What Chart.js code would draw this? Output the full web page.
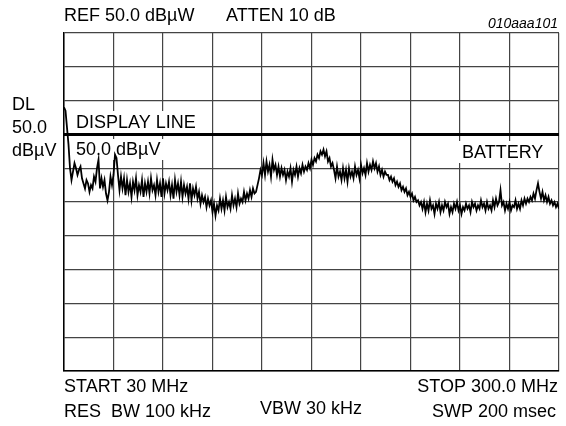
<!DOCTYPE html>
<html>
<head>
<meta charset="utf-8">
<script src="https://cdn.jsdelivr.net/npm/chart.js@4/dist/chart.umd.min.js"></script>
<style>
  html, body { margin: 0; padding: 0; background: #fff; }
  #wrap { width: 566px; height: 426px; }
</style>
</head>
<body>
<div id="wrap"><canvas id="spec" width="566" height="426"></canvas></div>
<script>
// Sweep settings (MHz) and screen scale (dB)
const START_MHZ = 30;
const STOP_MHZ = 300;
const Y_MIN = -20;
const Y_MAX = 80;
const DISPLAY_LINE = 50;

// Trace levels (dBuV), evenly spaced across the sweep
const traceLevels = [
  58, 57, 52, 47, 40, 36.5,
  39, 41.5, 40, 38, 39.5, 40.5, 37, 35.5, 34, 36.5, 35.5, 33, 35, 34, 37.5, 36, 40, 42.5, 34, 37,
  34.5, 36.5, 32.5, 30.5, 33, 37.5, 35, 38, 44, 43, 38, 33.5, 37.5, 34,
  37, 32, 36.5, 33, 35.5, 31.5, 36, 33.5, 37, 32, 35, 33, 36.5, 31.5, 35.5, 33, 36, 32.5, 37, 33.5,
  35, 32, 36.5, 33, 35.5, 31.5, 37, 32.5, 35.5, 33.5, 36, 32, 35, 31, 36.5, 33, 35.5, 32, 36, 31.5,
  35, 32.5, 34.5, 31, 35.5, 30.5, 34, 32, 34.5, 31,
  33, 29.5, 32, 30, 31.5, 28.5, 31, 29, 30.5, 27, 29.5, 26,
  29, 27.5, 31, 28, 30.5, 27.5, 31.5, 28.5, 30, 28, 32, 29, 31, 28.5, 32.5, 29.5, 31, 30, 33, 30.5,
  32.5, 31, 33.5, 31.5, 34, 32.5, 33,
  35, 37, 39.5, 38,
  41.5, 38, 42, 39, 41, 37.5, 42.5, 39.5, 41, 38, 40.5, 37.5, 40, 38,
  39.5, 36.5, 39, 37.5, 40, 36, 39.5, 38, 40.5, 37.5, 40, 38.5, 41, 39, 40.5, 39.5,
  41.5, 40, 42.5, 41, 43, 42, 44, 43, 45, 44, 45.5,
  43.5, 45, 42, 43, 40.5, 41.5,
  39.5, 37, 40.5, 37.5, 39, 36.5, 40, 37, 39.5, 36, 40, 37.5, 39, 37, 40.5, 38, 39.5, 37, 41, 38.5,
  40, 38, 41.5, 39, 41, 39.5, 42, 40, 41.5, 39, 40.5, 38, 39.5, 37.5, 39, 38,
  38, 36.5, 37.5, 36, 37, 35, 36, 34.5, 35.5, 33.5, 34.5, 33, 34, 32, 33, 31.5, 32.5, 30.5, 31.5, 30,
  30.5, 29, 30,
  28, 30, 27, 29.5, 27.5, 30.5, 28, 29, 26.5, 29.5, 28, 30, 27, 29, 27.5, 30, 28.5, 29.5, 26.5, 28.5,
  27, 29.5, 28, 30, 27.5, 29, 26.5, 28.5, 27.5, 29.5, 28, 29, 27, 30, 28.5, 29.5, 27.5, 29, 28, 30.5,
  28.5, 29.5, 27.5, 30, 28, 29, 27.5, 30.5, 28.5, 31, 29, 30,
  33.5,
  29, 30, 27.5, 29.5, 28, 30, 27.5, 29, 28.5, 30.5, 28, 29.5, 28, 30.5, 29, 31, 29.5, 31, 30,
  31.5, 30.5, 32.5, 31, 33.5, 35.5, 33, 31,
  33, 30.5, 32, 30, 31.5, 29.5, 30.5, 29, 30, 28.5, 29.5, 28
];

const headerLabels = ['REF 50.0 dB\u00b5W', 'ATTEN 10 dB'];
const figureId = '010aaa101';
const dlLabels = ['DL', '50.0', 'dB\u00b5V'];
const innerLabels = ['DISPLAY LINE', '50.0 dB\u00b5V', 'BATTERY'];
const footerLeft = ['START 30 MHz', 'RES  BW 100 kHz'];
const footerMid = 'VBW 30 kHz';
const footerRight = ['STOP 300.0 MHz', 'SWP 200 msec'];

const FONT = '"Liberation Sans", Arial, Helvetica, sans-serif';

function traceData() {
  const step = (STOP_MHZ - START_MHZ) / (traceLevels.length - 1);
  return traceLevels.map((v, i) => ({ x: START_MHZ + i * step, y: v }));
}

// labels inside the graticule sit on white patches, drawn before the traces
const labelBoxes = {
  id: 'labelBoxes',
  beforeDatasetsDraw(chart) {
    const c = chart.ctx;
    c.save();
    c.fillStyle = '#fff';
    c.fillRect(72, 111, 132, 22);
    c.fillRect(72, 139, 100, 21);
    c.fillRect(458, 141, 92, 22);
    c.fillStyle = '#000';
    c.font = '18px ' + FONT;
    c.textBaseline = 'middle';
    c.textAlign = 'left';
    c.fillText(innerLabels[0], 76, 123);
    c.fillText(innerLabels[1], 76, 150);
    c.fillText(innerLabels[2], 462, 153);
    c.restore();
  }
};

const outerText = {
  id: 'outerText',
  afterDraw(chart) {
    const c = chart.ctx;
    c.save();
    c.fillStyle = '#000';
    c.textBaseline = 'middle';
    c.font = '18px ' + FONT;
    c.textAlign = 'left';
    c.fillText(headerLabels[0], 64, 16);
    c.fillText(headerLabels[1], 226, 16);
    c.fillText(dlLabels[0], 12, 105);
    c.fillText(dlLabels[1], 12, 128);
    c.fillText(dlLabels[2], 12, 151);
    c.fillText(footerLeft[0], 64, 387);
    c.fillText(footerLeft[1], 64, 412);
    c.fillText(footerMid, 260, 409);
    c.textAlign = 'right';
    c.fillText(footerRight[0], 558, 387);
    c.fillText(footerRight[1], 556, 412);
    c.font = 'italic 14px ' + FONT;
    c.fillText(figureId, 558, 24);
    c.restore();
  }
};

new Chart(document.getElementById('spec'), {
  type: 'line',
  data: {
    datasets: [
      {
        label: 'Display line',
        data: [{ x: START_MHZ, y: DISPLAY_LINE }, { x: STOP_MHZ, y: DISPLAY_LINE }],
        borderColor: '#000',
        borderWidth: 3,
        pointRadius: 0
      },
      {
        label: 'Battery',
        data: traceData(),
        borderColor: '#000',
        borderWidth: 1.8,
        pointRadius: 0,
        tension: 0
      }
    ]
  },
  options: {
    responsive: false,
    animation: false,
    layout: { padding: { left: 64, top: 33, right: 7, bottom: 55 } },
    plugins: { legend: { display: false }, tooltip: { enabled: false } },
    scales: {
      x: {
        type: 'linear',
        min: START_MHZ,
        max: STOP_MHZ,
        ticks: { display: false, stepSize: 27 },
        grid: { color: '#444', lineWidth: 1.2, drawTicks: false, tickLength: 0 },
        border: { display: true, color: '#000', width: 1.5 }
      },
      y: {
        min: Y_MIN,
        max: Y_MAX,
        ticks: { display: false, stepSize: 10 },
        grid: { color: '#444', lineWidth: 1.2, drawTicks: false, tickLength: 0 },
        border: { display: true, color: '#000', width: 1.5 }
      }
    }
  },
  plugins: [labelBoxes, outerText]
});
</script>
</body>
</html>
